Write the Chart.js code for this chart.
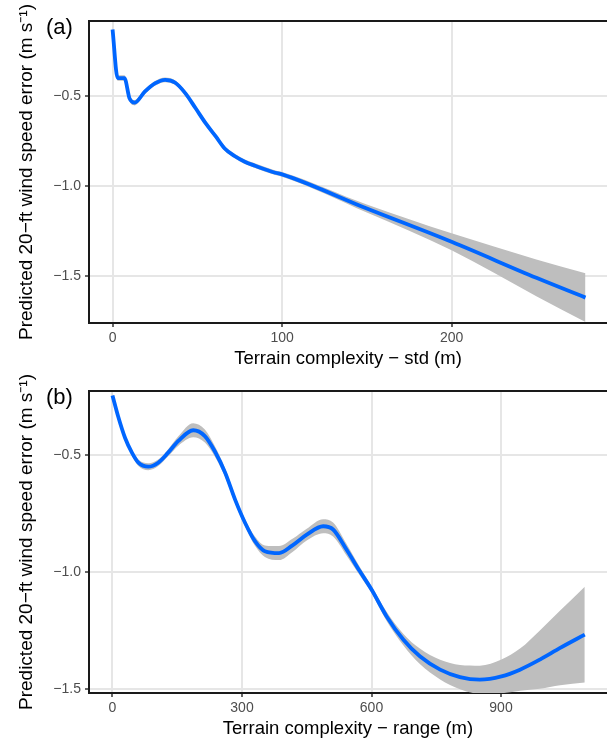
<!DOCTYPE html>
<html lang="en">
<head>
  <meta charset="UTF-8">
  <title>Wind speed error vs terrain complexity</title>
  <script src="https://cdn.jsdelivr.net/npm/chart.js"></script>
  <style>
    body {
      margin: 0;
      background: #fff;
      overflow: hidden;
    }
    canvas {
      position: absolute;
      left: 0;
    }
    #chartA { top: 0; }
    #chartB { top: 370px; }
  </style>
</head>
<body>
  <canvas id="chartA" width="607" height="370"></canvas>
  <canvas id="chartB" width="607" height="370"></canvas>

  <script>
    // (a) terrain std (m) -> fitted error, with confidence band
    const stdX = [0, 3, 7, 10, 13, 19, 25, 31, 37, 43, 49, 55, 61, 66, 72, 78, 84, 96, 100, 150, 200, 250, 279];
    const stdFit = [-0.13, -0.40, -0.40, -0.513, -0.537, -0.476, -0.43, -0.41, -0.426, -0.485, -0.568, -0.652,
                    -0.726, -0.79, -0.833, -0.865, -0.887, -0.926, -0.935, -1.125, -1.31, -1.51, -1.62];
    const stdUpper = [-0.11, -0.385, -0.385, -0.498, -0.522, -0.463, -0.417, -0.397, -0.413, -0.472, -0.555, -0.639,
                      -0.713, -0.777, -0.820, -0.852, -0.874, -0.913, -0.922, -1.103, -1.263, -1.408, -1.484];
    const stdLower = [-0.15, -0.415, -0.415, -0.528, -0.552, -0.489, -0.443, -0.423, -0.439, -0.498, -0.581, -0.665,
                      -0.739, -0.803, -0.846, -0.878, -0.900, -0.939, -0.948, -1.147, -1.357, -1.612, -1.756];
    const stdTicks = [0, 100, 200];

    // (b) terrain range (m)
    const rangeX = [0, 13, 29, 45, 60, 83, 106, 129, 152, 187, 214, 237, 261, 284, 307, 330, 353, 386, 417, 450,
                    488, 511, 542, 573, 600, 635, 674, 712, 759, 805, 851, 901, 944, 990, 1037, 1094];
    const rangeFit = [-0.243, -0.332, -0.424, -0.488, -0.531, -0.548, -0.531, -0.488, -0.439, -0.392, -0.417, -0.482,
                      -0.574, -0.689, -0.788, -0.867, -0.910, -0.918, -0.885, -0.839, -0.803, -0.817, -0.903, -0.996,
                      -1.074, -1.189, -1.289, -1.360, -1.417, -1.449, -1.460, -1.446, -1.417, -1.374, -1.324, -1.267];
    const rangeUpper = [-0.228, -0.320, -0.414, -0.476, -0.517, -0.533, -0.517, -0.473, -0.419, -0.362, -0.389, -0.460,
                        -0.556, -0.674, -0.773, -0.847, -0.885, -0.888, -0.857, -0.814, -0.773, -0.787, -0.878, -0.978,
                        -1.059, -1.169, -1.264, -1.327, -1.375, -1.397, -1.400, -1.374, -1.327, -1.249, -1.164, -1.062];
    const rangeLower = [-0.258, -0.344, -0.434, -0.500, -0.545, -0.563, -0.545, -0.503, -0.459, -0.422, -0.445, -0.504,
                        -0.592, -0.704, -0.803, -0.887, -0.935, -0.948, -0.913, -0.864, -0.833, -0.847, -0.928, -1.014,
                        -1.089, -1.209, -1.314, -1.393, -1.459, -1.501, -1.520, -1.518, -1.507, -1.499, -1.484, -1.472];
    const rangeTicks = [0, 300, 600, 900];

    const yTicks = [-0.5, -1.0, -1.5];
    const yTitle = 'Predicted 20\u2212ft wind speed error (m s\u207B\u00B9)';

    const FONT = '"Liberation Sans", Arial, Helvetica, sans-serif';
    const LINE = '#0066ff';
    const BAND = '#bebebe';
    const GRID = '#e6e6e6';
    const AXIS = '#1a1a1a';

    // panel tag in the top-left corner, e.g. "(a)"
    const panelTag = {
      id: 'panelTag',
      afterDraw(chart, args, opts) {
        const ctx = chart.ctx;
        ctx.save();
        ctx.font = '22px ' + FONT;
        ctx.fillStyle = '#000';
        ctx.textBaseline = 'middle';
        ctx.fillText(opts.text, 46, 28);
        ctx.restore();
      }
    };

    const pts = (xs, ys) => xs.map((x, i) => ({ x, y: ys[i] }));
    const minus = v => String(v).replace('-', '\u2212');

    function makePanel(id, tag, xs, fit, upper, lower, xTicks, xMin, xMax, yMin, yMax, xTitle) {
      new Chart(document.getElementById(id), {
        type: 'line',
        data: {
          datasets: [
            { data: pts(xs, fit), borderColor: LINE, borderWidth: 3.8, pointRadius: 0,
              cubicInterpolationMode: 'monotone', fill: false },
            { data: pts(xs, upper), borderWidth: 0, pointRadius: 0, backgroundColor: BAND,
              cubicInterpolationMode: 'monotone', fill: '+1' },
            { data: pts(xs, lower), borderWidth: 0, pointRadius: 0, backgroundColor: BAND,
              cubicInterpolationMode: 'monotone', fill: false }
          ]
        },
        options: {
          responsive: false,
          animation: false,
          layout: { padding: 0 },
          plugins: {
            legend: { display: false },
            tooltip: { enabled: false },
            panelTag: { text: tag }
          },
          scales: {
            x: {
              type: 'linear', position: 'bottom', min: xMin, max: xMax,
              afterBuildTicks: s => { s.ticks = xTicks.map(v => ({ value: v })); },
              afterFit: s => { s.height = 47; },
              grid: { color: GRID, lineWidth: 2, tickLength: 4, tickColor: '#333', tickWidth: 1.5 },
              border: { color: AXIS, width: 2 },
              ticks: { color: '#4d4d4d', padding: 3, maxRotation: 0, font: { family: FONT, size: 14 } },
              title: { display: true, text: xTitle, color: '#000', padding: { top: 0, bottom: 0 },
                       font: { family: FONT, size: 18.5 } }
            },
            xTop: {
              type: 'linear', axis: 'x', position: 'top', min: xMin, max: xMax,
              afterFit: s => { s.height = 21; },
              grid: { display: false, drawTicks: false },
              border: { color: AXIS, width: 2 },
              ticks: { display: false }
            },
            y: {
              type: 'linear', position: 'left', min: yMin, max: yMax,
              afterBuildTicks: s => { s.ticks = yTicks.map(v => ({ value: v })); },
              afterFit: s => { s.width = 89; },
              grid: { color: GRID, lineWidth: 2, tickLength: 4, tickColor: '#333', tickWidth: 1.5 },
              border: { color: AXIS, width: 2 },
              ticks: { color: '#4d4d4d', padding: 4, font: { family: FONT, size: 14 },
                       callback: v => minus(v.toFixed(1)) },
              title: { display: true, text: yTitle, color: '#000', padding: { top: 15, bottom: 0 },
                       font: { family: FONT, size: 19 } }
            }
          }
        },
        plugins: [panelTag]
      });
    }

    makePanel('chartA', '(a)', stdX, stdFit, stdUpper, stdLower, stdTicks,
              -13.9, 291.7, -1.761, -0.083, 'Terrain complexity \u2212 std (m)');
    makePanel('chartB', '(b)', rangeX, rangeFit, rangeUpper, rangeLower, rangeTicks,
              -54.4, 1145.5, -1.517, -0.224, 'Terrain complexity \u2212 range (m)');
  </script>
</body>
</html>
